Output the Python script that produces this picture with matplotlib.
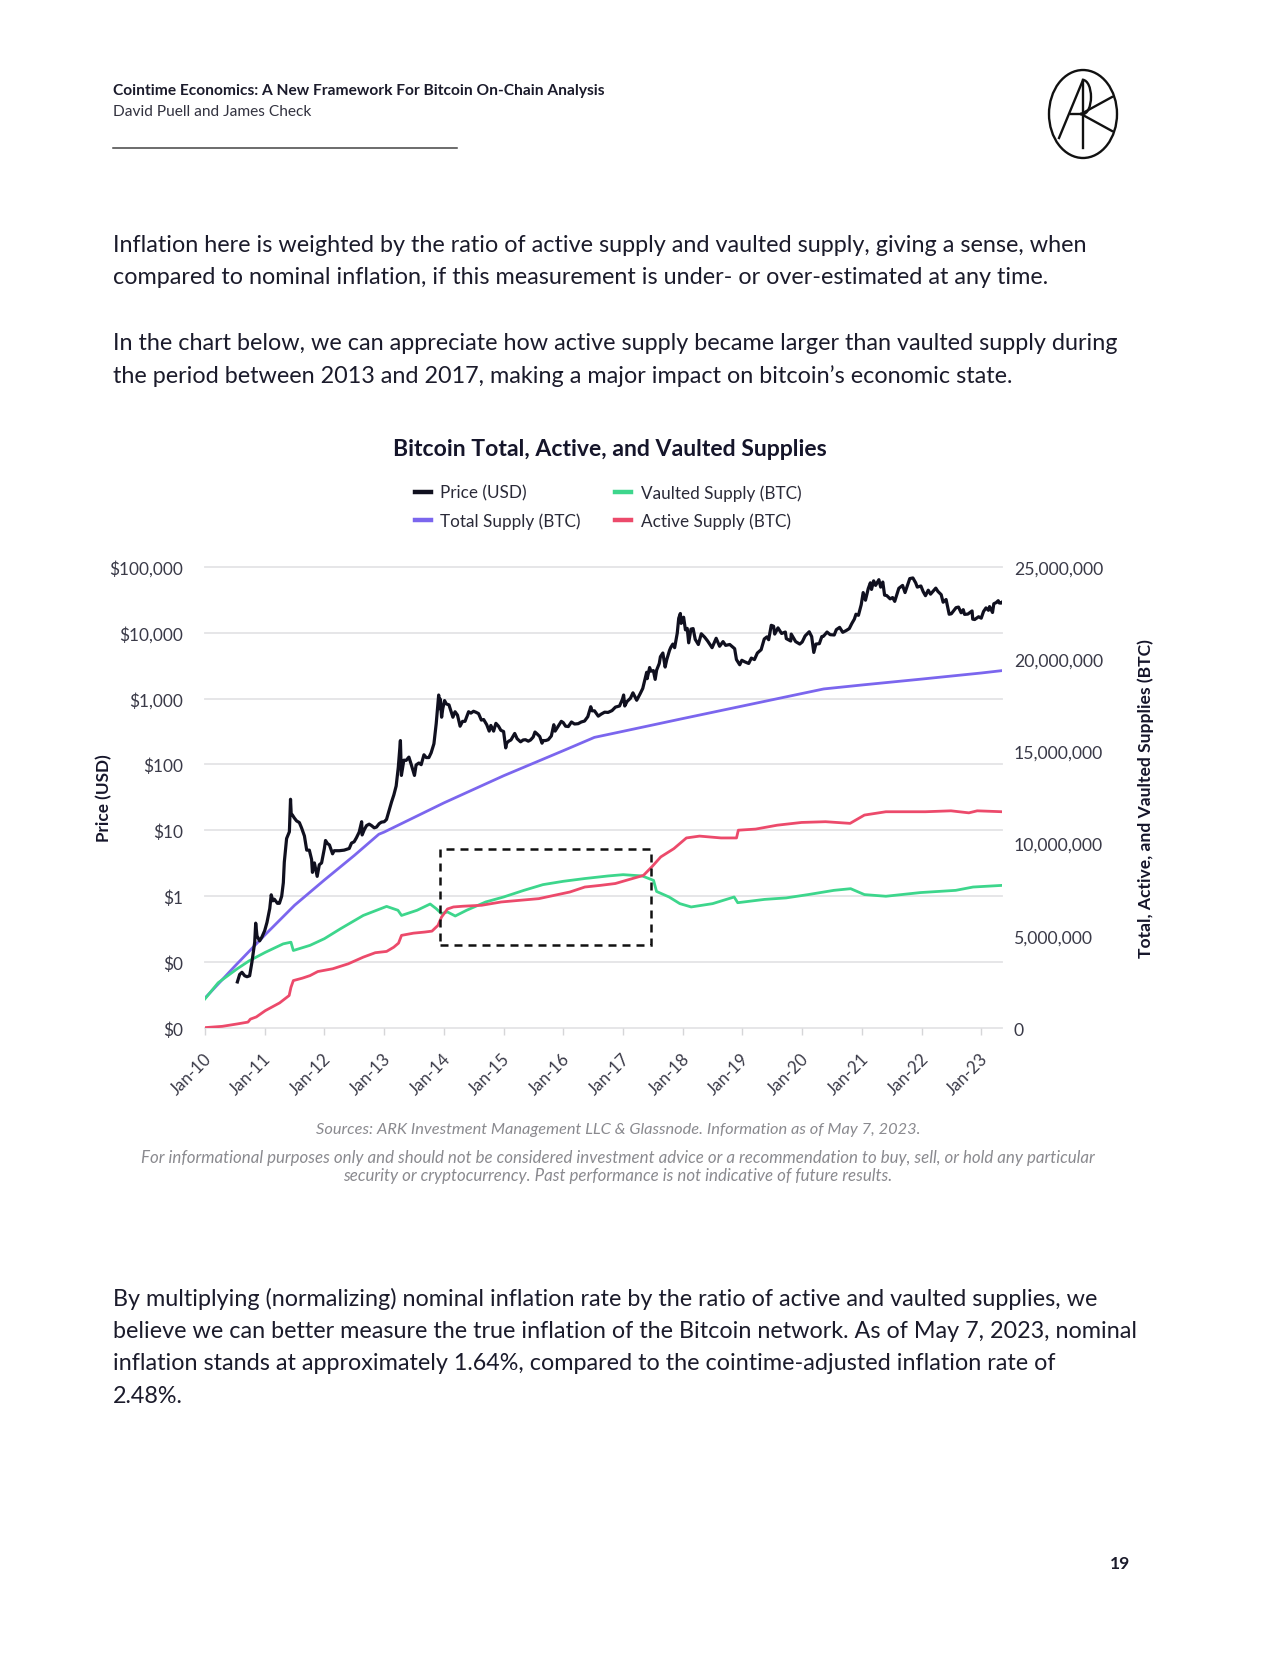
import numpy as np
import pandas as pd
import matplotlib
matplotlib.use("Agg")
import matplotlib.pyplot as plt
import matplotlib.dates as mdates
from matplotlib.ticker import FixedLocator, FuncFormatter
from matplotlib.transforms import blended_transform_factory, ScaledTranslation
from matplotlib.patches import Circle, Rectangle, Arc
from matplotlib.lines import Line2D

plt.rcParams['font.family'] = ['Lato', 'DejaVu Sans']

# ---------------- data ----------------
price_dates = [
    "2010-07-18", "2010-08-01", "2010-08-15", "2010-09-01", "2010-09-15", "2010-10-01", "2010-10-15",
    "2010-11-01", "2010-11-07", "2010-11-15", "2010-12-01", "2010-12-15",
    "2011-01-01", "2011-01-15", "2011-02-01", "2011-02-10", "2011-02-20", "2011-03-01", "2011-03-20",
    "2011-04-01", "2011-04-15", "2011-04-25", "2011-05-01", "2011-05-15", "2011-06-01", "2011-06-08",
    "2011-06-12", "2011-06-20", "2011-07-01", "2011-07-15", "2011-08-01", "2011-08-15", "2011-09-01",
    "2011-09-15", "2011-10-01", "2011-10-15", "2011-10-20", "2011-11-01", "2011-11-18", "2011-12-01",
    "2011-12-15",
    "2012-01-01", "2012-01-08", "2012-01-20", "2012-02-01", "2012-02-20", "2012-03-01", "2012-04-01",
    "2012-05-01", "2012-06-01", "2012-06-15", "2012-07-01", "2012-07-15", "2012-08-01", "2012-08-16",
    "2012-08-19", "2012-09-01", "2012-09-15", "2012-10-01", "2012-10-15", "2012-11-01", "2012-11-15",
    "2012-12-01", "2012-12-15",
    "2013-01-01", "2013-01-15", "2013-02-01", "2013-02-15", "2013-03-01", "2013-03-15", "2013-03-28",
    "2013-04-10", "2013-04-16", "2013-05-01", "2013-05-15", "2013-06-01", "2013-06-15", "2013-07-05",
    "2013-07-15", "2013-08-01", "2013-08-15", "2013-09-01", "2013-09-15", "2013-10-01", "2013-10-15",
    "2013-11-01", "2013-11-15", "2013-11-30", "2013-12-07", "2013-12-10", "2013-12-18", "2013-12-25",
    "2014-01-05", "2014-01-15", "2014-02-01", "2014-02-10", "2014-02-25", "2014-03-10", "2014-03-25",
    "2014-04-10", "2014-04-25", "2014-05-10", "2014-06-01", "2014-06-15", "2014-07-01", "2014-07-15",
    "2014-08-01", "2014-08-18", "2014-09-01", "2014-09-20", "2014-10-05", "2014-10-15", "2014-11-01",
    "2014-11-15", "2014-12-01", "2014-12-15",
    "2015-01-01", "2015-01-14", "2015-01-20", "2015-02-01", "2015-02-15", "2015-03-10", "2015-03-25",
    "2015-04-15", "2015-05-01", "2015-05-15", "2015-06-01", "2015-06-15", "2015-07-01", "2015-07-12",
    "2015-07-25", "2015-08-10", "2015-08-24", "2015-09-01", "2015-09-15", "2015-10-01", "2015-10-20",
    "2015-11-04", "2015-11-12", "2015-11-25", "2015-12-10", "2015-12-20",
    "2016-01-01", "2016-01-15", "2016-02-01", "2016-02-20", "2016-03-10", "2016-04-01", "2016-04-20",
    "2016-05-10", "2016-05-30", "2016-06-17", "2016-06-25", "2016-07-10", "2016-08-02", "2016-08-20",
    "2016-09-10", "2016-10-01", "2016-10-25", "2016-11-15", "2016-12-10", "2016-12-28",
    "2017-01-04", "2017-01-11", "2017-01-25", "2017-02-15", "2017-03-02", "2017-03-25", "2017-04-15",
    "2017-05-01", "2017-05-25", "2017-05-28", "2017-06-12", "2017-06-20", "2017-07-05", "2017-07-16",
    "2017-07-25", "2017-08-10", "2017-08-17", "2017-09-01", "2017-09-15", "2017-09-25", "2017-10-12",
    "2017-10-20", "2017-11-01", "2017-11-12", "2017-11-28", "2017-12-07", "2017-12-17", "2017-12-22",
    "2018-01-06", "2018-01-17", "2018-01-28", "2018-02-06", "2018-02-20", "2018-03-05", "2018-03-18",
    "2018-04-06", "2018-04-24", "2018-05-15", "2018-06-01", "2018-06-29", "2018-07-24", "2018-08-14",
    "2018-09-04", "2018-09-20", "2018-10-15", "2018-11-14", "2018-11-25", "2018-12-15", "2018-12-28",
    "2019-01-15", "2019-02-08", "2019-02-24", "2019-03-15", "2019-04-02", "2019-04-25", "2019-05-14",
    "2019-05-30", "2019-06-10", "2019-06-26", "2019-07-10", "2019-07-17", "2019-08-06", "2019-08-28",
    "2019-09-20", "2019-09-26", "2019-10-23", "2019-10-26", "2019-11-22", "2019-12-17",
    "2020-01-01", "2020-01-19", "2020-02-13", "2020-02-28", "2020-03-12", "2020-03-25", "2020-04-15",
    "2020-04-30", "2020-05-10", "2020-06-01", "2020-06-20", "2020-07-15", "2020-07-28", "2020-08-17",
    "2020-09-05", "2020-09-25", "2020-10-15", "2020-10-31", "2020-11-15", "2020-11-25", "2020-12-10",
    "2020-12-27",
    "2021-01-08", "2021-01-22", "2021-02-08", "2021-02-21", "2021-02-28", "2021-03-13", "2021-03-25",
    "2021-04-14", "2021-04-25", "2021-05-08", "2021-05-19", "2021-06-01", "2021-06-22", "2021-07-07",
    "2021-07-20", "2021-08-14", "2021-09-06", "2021-09-21", "2021-10-20", "2021-11-08", "2021-11-25",
    "2021-12-05", "2021-12-27",
    "2022-01-10", "2022-01-24", "2022-02-10", "2022-02-24", "2022-03-28", "2022-04-10", "2022-04-30",
    "2022-05-12", "2022-05-30", "2022-06-18", "2022-07-01", "2022-07-30", "2022-08-14", "2022-08-30",
    "2022-09-12", "2022-09-20", "2022-10-10", "2022-11-05", "2022-11-09", "2022-11-21", "2022-12-15",
    "2022-12-31",
    "2023-01-14", "2023-01-29", "2023-02-13", "2023-02-20", "2023-03-10", "2023-03-18", "2023-04-01",
    "2023-04-14", "2023-04-20", "2023-05-01", "2023-05-07",
]
price_usd = [
    0.05, 0.065, 0.07, 0.062, 0.06, 0.062, 0.10,
    0.20, 0.39, 0.25, 0.21, 0.24,
    0.30, 0.40, 0.65, 1.05, 0.85, 0.90, 0.78,
    0.78, 1.0, 1.6, 3.3, 7.5, 9.5, 29.6,
    18, 17, 15.4, 13.9, 13.1, 10.8, 8.2,
    5.0, 5.0, 3.6, 2.3, 3.2, 2.0, 3.0,
    3.2,
    5.3, 7.0, 6.3, 6.0, 4.4, 4.9, 4.9,
    5.0, 5.3, 6.4, 6.7, 7.7, 9.4, 13.5,
    8.5, 10.2, 11.8, 12.4, 11.8, 10.9, 11.2,
    12.6, 13.3,
    13.5, 14.6, 20.4, 27, 34.5, 47, 90,
    230, 68, 116, 115, 129, 100, 68,
    98, 105, 99, 140, 127, 127, 150,
    206, 418, 1130, 700, 980, 520, 700,
    930, 830, 800, 680, 520, 630, 560,
    380, 450, 450, 630, 600, 640, 620,
    590, 470, 480, 400, 320, 390, 320,
    420, 380, 330,
    315, 178, 210, 225, 235, 295, 245,
    220, 235, 237, 225, 235, 260, 310,
    290, 265, 210, 230, 230, 237, 270,
    400, 320, 360, 415, 450,
    430, 380, 375, 440, 410, 415, 440,
    455, 530, 750, 650, 650, 540, 580,
    620, 615, 655, 740, 770, 975,
    1130, 770, 900, 1010, 1220, 940, 1180,
    1420, 2500, 2000, 2950, 2600, 2650, 1950,
    2700, 3400, 4300, 4900, 3000, 3900, 5400,
    6000, 6700, 5900, 9800, 16500, 19500, 13800,
    17100, 11000, 11600, 7000, 11300, 11500, 7900,
    6600, 9600, 8500, 7500, 5900, 8200, 6200,
    7300, 6400, 6600, 5700, 3900, 3250, 3800,
    3600, 3400, 4100, 3900, 4900, 5500, 8000,
    8600, 7800, 12900, 12500, 9500, 11800, 9700,
    10200, 8100, 7450, 9500, 7300, 6700,
    7200, 8900, 10300, 8700, 5000, 6700, 6800,
    8700, 8800, 10200, 9300, 9200, 11100, 12000,
    10100, 10700, 11500, 13800, 16000, 19000, 18300,
    26500,
    40500, 31000, 46500, 57000, 45200, 61000, 52000,
    63500, 49000, 58500, 37000, 36500, 32500, 34000,
    29800, 47000, 52000, 40500, 66000, 67500, 57000,
    49000, 51000,
    41800, 36300, 44000, 38300, 47300, 42200, 37700,
    28900, 31800, 19000, 19300, 23900, 24400, 20000,
    22300, 18900, 19100, 21300, 16000, 15800, 17400,
    16550,
    20900, 23700, 21800, 24800, 20200, 27400, 28500,
    30500, 28200, 28000, 28900,
]

# supplies in millions of BTC, time in decimal years
total_t = [2010.0, 2010.5, 2011.0, 2011.5, 2012.0, 2012.5, 2012.91, 2013.0, 2014.0, 2015.0,
           2016.0, 2016.52, 2017.0, 2018.0, 2019.0, 2020.0, 2020.36, 2021.0, 2022.0, 2023.0, 2023.35]
total_m = [1.62, 3.35, 5.03, 6.65, 8.02, 9.35, 10.5, 10.62, 12.2, 13.67,
           15.03, 15.75, 16.08, 16.77, 17.45, 18.13, 18.375, 18.59, 18.91, 19.24, 19.37]

active_t = [2010.0, 2010.29, 2010.54, 2010.72, 2010.76, 2010.86, 2011.01, 2011.25, 2011.41, 2011.44,
            2011.48, 2011.63, 2011.76, 2011.89, 2012.14, 2012.40, 2012.65, 2012.85, 2013.04, 2013.16,
            2013.24, 2013.29, 2013.49, 2013.68, 2013.80, 2013.90, 2013.96, 2014.06, 2014.16, 2014.32,
            2014.63, 2014.96, 2015.27, 2015.59, 2015.85, 2016.11, 2016.36, 2016.62, 2016.87, 2017.05,
            2017.34, 2017.48, 2017.63, 2017.85, 2018.06, 2018.28, 2018.64, 2018.90, 2018.93, 2019.22,
            2019.58, 2019.99, 2020.39, 2020.80, 2021.04, 2021.40, 2022.06, 2022.49, 2022.79, 2022.93,
            2023.35]
active_m = [0.02, 0.09, 0.22, 0.32, 0.48, 0.60, 0.94, 1.36, 1.76, 2.20,
            2.57, 2.70, 2.84, 3.06, 3.21, 3.48, 3.84, 4.08, 4.15, 4.38,
            4.60, 5.02, 5.14, 5.20, 5.25, 5.56, 6.01, 6.45, 6.56, 6.60,
            6.65, 6.83, 6.92, 7.01, 7.19, 7.37, 7.64, 7.73, 7.83, 8.00,
            8.27, 8.73, 9.27, 9.72, 10.30, 10.40, 10.30, 10.30, 10.72, 10.78,
            10.99, 11.14, 11.18, 11.09, 11.54, 11.72, 11.72, 11.77, 11.66, 11.77,
            11.72]

vault_t = [2010.0, 2010.22, 2010.54, 2010.74, 2011.01, 2011.31, 2011.44, 2011.48, 2011.76, 2012.0,
           2012.27, 2012.65, 2013.04, 2013.23, 2013.29, 2013.55, 2013.77, 2013.87, 2013.96, 2014.06,
           2014.19, 2014.38, 2014.70, 2015.0, 2015.34, 2015.66, 2016.0, 2016.36, 2016.75, 2017.0,
           2017.32, 2017.51, 2017.56, 2017.77, 2017.95, 2018.14, 2018.50, 2018.86, 2018.92, 2019.37,
           2019.73, 2020.10, 2020.53, 2020.81, 2021.04, 2021.40, 2021.98, 2022.57, 2022.86, 2023.35]
vault_m = [1.58, 2.45, 3.21, 3.64, 4.10, 4.56, 4.65, 4.20, 4.48, 4.84,
           5.38, 6.10, 6.59, 6.38, 6.10, 6.38, 6.72, 6.47, 6.20, 6.29,
           6.07, 6.38, 6.83, 7.10, 7.46, 7.77, 7.95, 8.10, 8.24, 8.31,
           8.24, 8.00, 7.40, 7.10, 6.74, 6.56, 6.74, 7.10, 6.79, 6.97,
           7.05, 7.23, 7.46, 7.55, 7.23, 7.14, 7.34, 7.46, 7.64, 7.73]

year_ticks = list(range(2010, 2024))
year_labels = ["Jan-%02d" % (y % 100) for y in year_ticks]
price_ticks = [0.01, 0.1, 1, 10, 100, 1000, 10000, 100000]
supply_ticks = [0, 5e6, 10e6, 15e6, 20e6, 25e6]

# highlight box (decimal years / BTC)
box_t0, box_t1 = 2013.93, 2017.46
box_v0, box_v1 = 4.51e6, 9.69e6

series_names = ["Price (USD)", "Total Supply (BTC)", "Vaulted Supply (BTC)", "Active Supply (BTC)"]
C_PRICE, C_TOTAL, C_VAULT, C_ACTIVE = "#10101f", "#7b66ee", "#3dd68c", "#ec4a6b"


def yr2date(ts):
    out = []
    for t in ts:
        y = int(np.floor(t))
        start = pd.Timestamp(year=y, month=1, day=1)
        end = pd.Timestamp(year=y + 1, month=1, day=1)
        out.append(start + (end - start) * (t - y))
    return pd.to_datetime(out)


W, H = 1280, 1656
fig = plt.figure(figsize=(W / 100, H / 100), dpi=100)
fig.patch.set_facecolor("white")

TXT = "#1b1b2b"

# ---------------- page header ----------------
fig.text(113 / W, 1 - 91 / H, "Cointime Economics: A New Framework For Bitcoin On-Chain Analysis",
         fontsize=11.2, fontweight="bold", color=TXT, va="center", ha="left")
fig.text(113 / W, 1 - 112 / H, "David Puell and James Check",
         fontsize=11.2, color="#333340", va="center", ha="left")
fig.add_artist(Line2D([113 / W, 457 / W], [1 - 148.5 / H] * 2, color="#444444", lw=1.1))

# logo
cx, cy, r = 1083, 115, 34
def P(x, y):
    return (x / W, 1 - y / H)
lk = dict(color="#111111", lw=1.7, transform=fig.transFigure)
fig.add_artist(Circle(P(cx, cy), r / W, transform=fig.transFigure, fill=False, ec="#111111", lw=1.7))
fig.add_artist(Line2D(*zip(P(cx, cy - r), P(cx, cy + r)), **lk))
fig.add_artist(Line2D(*zip(P(cx, cy - r), P(cx - 24, cy + 24)), **lk))
fig.add_artist(Line2D(*zip(P(cx - 12, cy), P(cx, cy)), **lk))
fig.add_artist(Line2D(*zip(P(cx - 2, cy), P(cx + 29, cy - 17)), **lk))
fig.add_artist(Line2D(*zip(P(cx - 2, cy), P(cx + 29, cy + 17)), **lk))
fig.add_artist(Arc(P(cx, cy - 17), 16 / W, 34 / H, theta1=-90, theta2=90,
                   transform=fig.transFigure, color="#111111", lw=1.7))

# body text
body = dict(fontsize=16.8, color=TXT, ha="left", va="center")
fig.text(113 / W, 1 - 245 / H, "Inflation here is weighted by the ratio of active supply and vaulted supply, giving a sense, when", **body)
fig.text(113 / W, 1 - 278 / H, "compared to nominal inflation, if this measurement is under- or over-estimated at any time.", **body)
fig.text(113 / W, 1 - 343 / H, "In the chart below, we can appreciate how active supply became larger than vaulted supply during", **body)
fig.text(113 / W, 1 - 376 / H, "the period between 2013 and 2017, making a major impact on bitcoin\u2019s economic state.", **body)

fig.text(113 / W, 1 - 1299 / H, "By multiplying (normalizing) nominal inflation rate by the ratio of active and vaulted supplies, we", **body)
fig.text(113 / W, 1 - 1332 / H, "believe we can better measure the true inflation of the Bitcoin network. As of May 7, 2023, nominal", **body)
fig.text(113 / W, 1 - 1364 / H, "inflation stands at approximately 1.64%, compared to the cointime-adjusted inflation rate of", **body)
fig.text(113 / W, 1 - 1397 / H, "2.48%.", **body)

fig.text(1120 / W, 1 - 1564 / H, "19", fontsize=12.5, fontweight="bold", color=TXT, ha="center", va="center")

# chart title
fig.text(610 / W, 1 - 449 / H, "Bitcoin Total, Active, and Vaulted Supplies",
         fontsize=16.6, fontweight="bold", color="#15152a", ha="center", va="center")

# sources
gray = "#8a8a8f"
fig.text(618 / W, 1 - 1130 / H, "Sources: ARK Investment Management LLC & Glassnode. Information as of May 7, 2023.",
         fontsize=11.8, style="italic", color=gray, ha="center", va="center")
fig.text(618 / W, 1 - 1158 / H, "For informational purposes only and should not be considered investment advice or a recommendation to buy, sell, or hold any particular",
         fontsize=12.2, style="italic", color=gray, ha="center", va="center")
fig.text(618 / W, 1 - 1176 / H, "security or cryptocurrency. Past performance is not indicative of future results.",
         fontsize=12.2, style="italic", color=gray, ha="center", va="center")

# ---------------- chart ----------------
ax = fig.add_axes([205 / W, 1 - 1029 / H, (1002 - 205) / W, (1029 - 567.7) / H])
axR = ax.twinx()
ax.set_zorder(axR.get_zorder() + 1)
ax.patch.set_visible(False)

pdates = pd.to_datetime(price_dates)
ax.plot(pdates, price_usd, color=C_PRICE, lw=2.3, solid_joinstyle="round", zorder=5)
ax.set_yscale("log")
ax.set_ylim(0.01, 100000)
ax.set_xlim(pd.Timestamp("2010-01-01"), pd.Timestamp("2023-05-07"))

l_total, = axR.plot(yr2date(total_t), np.array(total_m) * 1e6, color=C_TOTAL, lw=2.0, zorder=3)
l_vault, = axR.plot(yr2date(vault_t), np.array(vault_m) * 1e6, color=C_VAULT, lw=2.0, zorder=3)
l_active, = axR.plot(yr2date(active_t), np.array(active_m) * 1e6, color=C_ACTIVE, lw=2.0, zorder=3)
axR.set_ylim(0, 25e6)

# grid lines (price axis values) drawn beneath all series
gtr = blended_transform_factory(axR.transAxes, ax.transData)
for v in price_ticks:
    axR.plot([0, 1], [v, v], transform=gtr, color="#e4e4e6", lw=1.3, zorder=0, clip_on=False)

# dashed highlight box
d0, d1 = yr2date([box_t0, box_t1])
axR.add_patch(Rectangle((mdates.date2num(d0), box_v0), mdates.date2num(d1) - mdates.date2num(d0),
                        box_v1 - box_v0, fill=False, ec="#111111", lw=1.8,
                        ls=(0, (3.2, 2.4)), zorder=6))

for a in (ax, axR):
    for s in a.spines.values():
        s.set_visible(False)

ax.yaxis.set_major_locator(FixedLocator(price_ticks))
ax.yaxis.set_minor_locator(FixedLocator([]))
ax.yaxis.set_major_formatter(FuncFormatter(lambda v, p: "${:,.0f}".format(v)))
ax.tick_params(axis="y", length=0, pad=16, labelsize=12.4, labelcolor="#3a3a48")

axR.yaxis.set_major_locator(FixedLocator(supply_ticks))
axR.yaxis.set_major_formatter(FuncFormatter(lambda v, p: "{:,.0f}".format(v)))
axR.tick_params(axis="y", length=0, pad=8.5, labelsize=12.7, labelcolor="#3a3a48")

ax.set_xticks([pd.Timestamp(year=y, month=1, day=1) for y in year_ticks])
ax.set_xticklabels(year_labels)
ax.tick_params(axis="x", length=5, width=1, color="#d6d6d8", pad=15, labelsize=12.2, labelcolor="#3a3a48")
shift = ScaledTranslation(4 / 100, 0, fig.dpi_scale_trans)
for lab in ax.get_xticklabels():
    lab.set_rotation(45)
    lab.set_ha("right")
    lab.set_va("center")
    lab.set_rotation_mode("anchor")
    lab.set_transform(lab.get_transform() + shift)

ax.set_ylabel("Price (USD)", fontsize=12.3, fontweight="bold", color="#15152a")
ax.yaxis.set_label_coords(-0.116, 0.5)
axR.set_ylabel("Total, Active, and Vaulted Supplies (BTC)", fontsize=12.6, fontweight="bold", color="#15152a")
axR.yaxis.set_label_coords(1.170, 0.5)

# legend
l_price = ax.get_lines()[0]
leg = fig.legend([l_price, l_total, l_vault, l_active], series_names, ncol=2,
                 loc="center", bbox_to_anchor=(608 / W, 1 - 507.5 / H), frameon=False,
                 fontsize=12.3, handlelength=0.95, handletextpad=0.55, columnspacing=2.0,
                 labelspacing=0.66, labelcolor="#2a2a38")
for ln in leg.get_lines():
    ln.set_linewidth(3.2)

fig.savefig("out.png", dpi=100, facecolor="white")
